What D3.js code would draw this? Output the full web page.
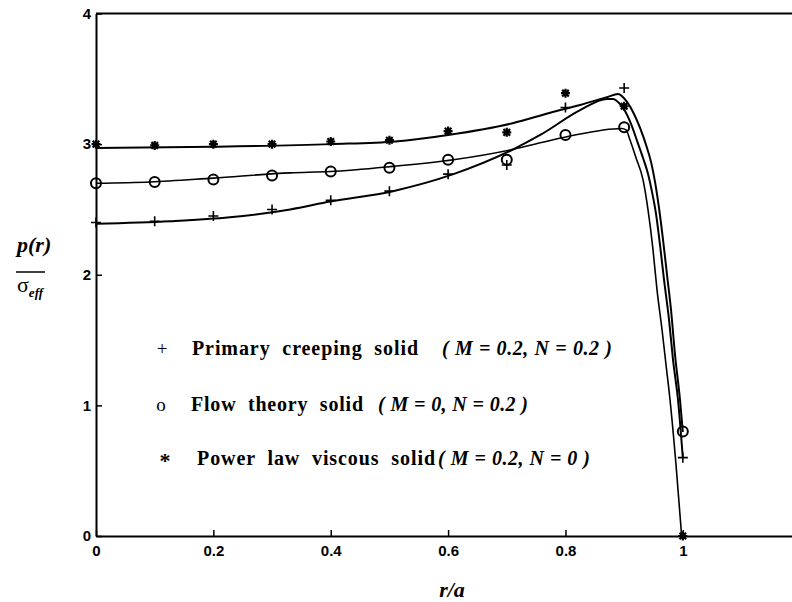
<!DOCTYPE html>
<html><head><meta charset="utf-8">
<script src="https://cdn.jsdelivr.net/npm/d3@7"></script>
<style>body{margin:0;background:#fff}svg{display:block}</style>
</head><body><svg id="c" width="792" height="602"></svg>
<script>
// ---- data ----
const xTickValues = [0, 0.2, 0.4, 0.6, 0.8, 1];
const xTickLabels = ["0", "0.2", "0.4", "0.6", "0.8", "1"];
const yTickValues = [0, 1, 2, 3, 4];
const yTickLabels = ["0", "1", "2", "3", "4"];

const markerR = [0, 0.1, 0.2, 0.3, 0.4, 0.5, 0.6, 0.7, 0.8, 0.9, 1.0];
const plusVals   = [2.40, 2.41, 2.45, 2.50, 2.57, 2.64, 2.77, 2.84, 3.28, 3.43, 0.60];
const circleVals = [2.70, 2.71, 2.73, 2.76, 2.79, 2.82, 2.88, 2.88, 3.07, 3.13, 0.80];
const starVals   = [3.00, 2.99, 3.00, 3.00, 3.02, 3.03, 3.10, 3.09, 3.39, 3.29, 0.00];

const starCurveR = [0, 0.2, 0.4, 0.51, 0.6, 0.71, 0.774, 0.825, 0.871, 0.8896, 0.9049, 0.9168, 0.9271, 0.9373, 0.9458, 0.9526, 0.9594, 0.9663, 0.9731, 0.9799, 0.9867, 0.9952, 1.0];
const starCurveV = [2.97, 2.98, 3.00, 3.02, 3.07, 3.16, 3.24, 3.30, 3.36, 3.384, 3.323, 3.231, 3.124, 2.994, 2.864, 2.711, 2.511, 2.266, 1.998, 1.730, 1.386, 1.041, 0.796];
const plusCurveR = [0, 0.126, 0.228, 0.331, 0.399, 0.506, 0.609, 0.711, 0.757, 0.825, 0.8708, 0.881, 0.8913, 0.9015, 0.9117, 0.922, 0.9322, 0.9407, 0.9475, 0.9543, 0.9611, 0.968, 0.9765, 0.9833, 0.9918, 1.0];
const plusCurveV = [2.39, 2.41, 2.44, 2.50, 2.56, 2.64, 2.77, 2.96, 3.07, 3.26, 3.346, 3.346, 3.315, 3.254, 3.155, 3.025, 2.894, 2.772, 2.634, 2.466, 2.228, 1.960, 1.654, 1.348, 1.041, 0.597];
const circleCurveR = [0, 0.092, 0.2, 0.331, 0.399, 0.506, 0.609, 0.711, 0.757, 0.806, 0.896, 0.9032, 0.91, 0.9203, 0.9322, 0.9407, 0.9492, 0.956, 0.9646, 0.9714, 0.9782, 0.9884, 0.998];
const circleCurveV = [2.70, 2.71, 2.74, 2.78, 2.79, 2.83, 2.88, 2.96, 3.01, 3.06, 3.12, 3.109, 3.032, 2.894, 2.726, 2.496, 2.190, 1.884, 1.577, 1.309, 1.041, 0.544, 0.0];

const legendNames = ["Primary  creeping  solid", "Flow  theory  solid", "Power  law  viscous  solid"];
const legendParams = ["( M = 0.2, N = 0.2 )", "( M = 0, N = 0.2 )", "( M = 0.2, N = 0 )"];
const legendSymbols = ["+", "o", "*"];

// ---- drawing ----
const svg = d3.select("#c");
svg.append("rect").attr("width", 792).attr("height", 602).attr("fill", "#fff");

const x = d3.scaleLinear().domain([0, 1.2]).range([96, 800.2]);
const y = d3.scaleLinear().domain([0, 4]).range([536, 13.5]);

const tickFont = "'Liberation Sans', Arial, sans-serif";

svg.append("line").attr("x1", x(0)).attr("x2", 792).attr("y1", y(4)).attr("y2", y(4))
  .attr("stroke", "#000").attr("stroke-width", 2);

const xAxis = svg.append("g").attr("transform", `translate(0,${y(0)})`)
  .call(d3.axisBottom(x).tickValues(xTickValues).tickFormat((d, i) => xTickLabels[i])
    .tickSizeInner(-6).tickSizeOuter(0).tickPadding(9));
const yAxis = svg.append("g").attr("transform", `translate(${x(0)},0)`)
  .call(d3.axisLeft(y).tickValues(yTickValues).tickFormat((d, i) => yTickLabels[i])
    .tickSizeInner(-6).tickSizeOuter(0).tickPadding(5));
[xAxis, yAxis].forEach(g => {
  g.select(".domain").attr("stroke", "#000").attr("stroke-width", 2);
  g.selectAll(".tick line").attr("stroke", "#000").attr("stroke-width", 1.5);
  g.selectAll(".tick text").attr("fill", "#000").style("font-family", tickFont)
    .style("font-size", "15px").style("font-weight", "bold");
});

// curves
const line = d3.line().x(d => x(d[0])).y(d => y(d[1])).curve(d3.curveMonotoneX);
const curves = [
  d3.zip(starCurveR, starCurveV),
  d3.zip(plusCurveR, plusCurveV),
  d3.zip(circleCurveR, circleCurveV)
];
svg.append("g").selectAll("path").data(curves).join("path")
  .attr("d", line).attr("fill", "none").attr("stroke", "#000")
  .attr("stroke-width", (d, i) => i === 2 ? 1.6 : 2)
  .attr("stroke-linejoin", "round");

// markers
const mk = svg.append("g").attr("stroke", "#000").attr("fill", "none");
mk.selectAll("path.plus").data(d3.zip(markerR, plusVals)).join("path").attr("class", "plus")
  .attr("transform", d => `translate(${x(d[0])},${y(d[1])})`)
  .attr("d", "M-5,0H5M0,-5V5").attr("stroke-width", 1.6);
mk.selectAll("circle").data(d3.zip(markerR, circleVals)).join("circle")
  .attr("cx", d => x(d[0])).attr("cy", d => y(d[1])).attr("r", 5).attr("stroke-width", 2);
mk.selectAll("path.star").data(d3.zip(markerR, starVals)).join("path").attr("class", "star")
  .attr("transform", d => `translate(${x(d[0])},${y(d[1])})`)
  .attr("d", "M-4.5,0H4.5M0,-4.5V4.5M-3.3,-3.3L3.3,3.3M-3.3,3.3L3.3,-3.3").attr("stroke-width", 2.2);

// legend
const serif = "'Liberation Serif', 'Times New Roman', serif";
const legY = [355, 411, 465];
const legSymX = [162, 161, 165];
const legNameX = [192, 191, 197];
const legNameW = [226, 172, 238];
const legParX = [442, 378, 438];
const legParW = [170, 150, 152];
const lg = svg.append("g").style("font-family", serif).attr("fill", "#000");
legendNames.forEach((n, i) => {
  lg.append("text").attr("x", legSymX[i]).attr("y", legY[i] + (i === 2 ? 3 : 0)).attr("text-anchor", "middle")
    .style("font-size", i === 2 ? "22px" : "19px").style("font-weight", i === 2 ? "bold" : "normal")
    .text(legendSymbols[i]);
  lg.append("text").attr("x", legNameX[i]).attr("y", legY[i])
    .style("font-size", "20px").style("font-weight", "bold")
    .attr("textLength", legNameW[i]).attr("lengthAdjust", "spacing")
    .style("white-space", "pre").text(n);
  lg.append("text").attr("x", legParX[i]).attr("y", legY[i])
    .style("font-size", "20px").style("font-weight", "bold").style("font-style", "italic")
    .attr("textLength", legParW[i]).attr("lengthAdjust", "spacing")
    .style("white-space", "pre").text(legendParams[i]);
});

// axis labels
svg.append("text").attr("x", 452).attr("y", 597).attr("text-anchor", "middle")
  .style("font-family", serif).style("font-size", "22px").style("font-weight", "bold").style("font-style", "italic")
  .text("r/a");
const yl = svg.append("g").style("font-family", serif).attr("fill", "#000");
yl.append("text").attr("x", 17).attr("y", 252).style("font-size", "22px")
  .style("font-weight", "bold").style("font-style", "italic").text("p(r)");
yl.append("line").attr("x1", 16).attr("x2", 45).attr("y1", 272).attr("y2", 272)
  .attr("stroke", "#000").attr("stroke-width", 1.5);
const sig = yl.append("text").attr("x", 17).attr("y", 292).style("font-size", "22px");
sig.append("tspan").text("σ");
sig.append("tspan").attr("dy", 5).style("font-size", "13px").style("font-style", "italic").style("font-weight", "bold").text("eff");
</script>
</body></html>
